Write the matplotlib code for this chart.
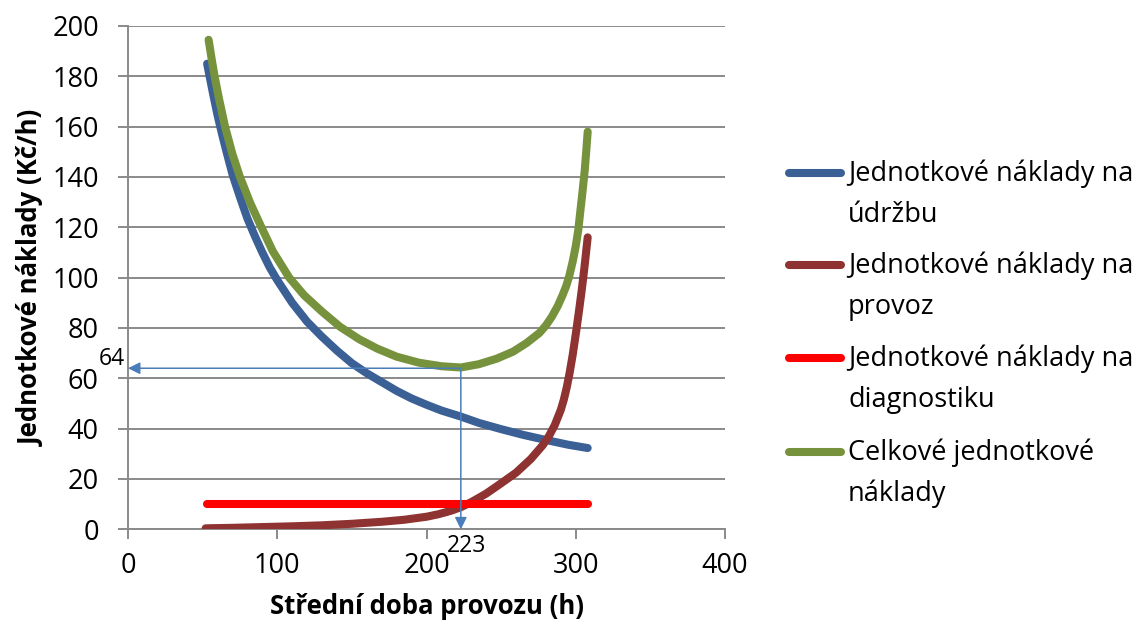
import matplotlib.pyplot as plt
from matplotlib.lines import Line2D

plt.rcParams['font.family'] = ['Open Sans', 'DejaVu Sans']

# Jednotkové náklady na údržbu
x_udrzba = [53, 55, 57, 60, 63, 66, 70, 75, 80, 85, 90, 95, 100, 110, 120, 130, 140, 150,
            160, 170, 180, 190, 200, 210, 223, 235, 250, 265, 280, 295, 308]
y_udrzba = [185, 179, 173, 164.5, 157, 150, 141, 132, 123.5, 116.5, 110, 104, 99, 90, 82.5,
            76.5, 71, 66, 62, 58.5, 55, 52, 49.5, 47.2, 44.8, 42.3, 39.8, 37.5, 35.5, 33.6, 32.3]

# Jednotkové náklady na provoz
x_provoz = [52, 70, 90, 110, 130, 150, 170, 185, 200, 208, 216, 223, 230, 240, 250, 260, 270,
            278, 282, 286, 290, 292, 294, 296, 298, 300, 302, 304, 306, 308]
y_provoz = [0.4, 0.6, 0.9, 1.2, 1.6, 2.2, 3.0, 3.8, 5.0, 6.0, 7.3, 8.8, 10.8, 14.2, 18.3, 22.5,
            28.0, 33.5, 37.0, 41.5, 47.5, 51.5, 56.5, 62.5, 69.5, 77.5, 86.0, 95.0, 105.0, 116.0]

# Jednotkové náklady na diagnostiku
x_diag = [53, 308]
y_diag = [10, 10]

# Celkové jednotkové náklady
x_celk = [54, 56, 58, 61, 65, 70, 75, 82, 89, 97, 108, 118, 130, 142, 155, 167, 180, 195, 210,
          223, 235, 247, 258, 267, 275.6, 280, 284, 288, 291, 293.5, 295.6, 298, 300, 301.7,
          303, 304.5, 306, 307, 308]
y_celk = [194.5, 187, 180, 171, 160, 149, 140, 129.5, 120.5, 110.5, 100, 93, 86.5, 80.5, 75.5,
          71.8, 68.6, 66.2, 64.8, 64.3, 65.6, 67.8, 70.6, 74, 78, 81, 84.5, 88.8, 92.8, 96.5,
          100.5, 106.5, 112.5, 119, 126, 134, 142.5, 150, 158]

opt_x = 223
opt_y = 64

labels = [("Jednotkové náklady na", "údržbu"),
          ("Jednotkové náklady na", "provoz"),
          ("Jednotkové náklady na", "diagnostiku"),
          ("Celkové jednotkové", "náklady")]
colors = ['#3b6096', '#8e3331', '#ff0000', '#76923c']

fig = plt.figure(figsize=(11.41, 6.30), dpi=100)
ax = fig.add_axes([0.1122, 0.1598, 0.5232, 0.799])

lw = 5.8
series = [(x_udrzba, y_udrzba), (x_provoz, y_provoz), (x_diag, y_diag), (x_celk, y_celk)]
for (xs, ys), c in zip(series, colors):
    ax.plot(xs, ys, color=c, lw=lw, solid_capstyle='round', solid_joinstyle='round', zorder=3)

# odečet optima
arrow_c = '#4a7ebb'
for tip in [(0, opt_y), (opt_x, 0)]:
    ax.annotate('', xy=tip, xytext=(opt_x, opt_y),
                arrowprops=dict(arrowstyle='-|>', color=arrow_c, lw=1.1, mutation_scale=18,
                                shrinkA=0, shrinkB=0), zorder=4)
ax.text(-10.7, 67.5, str(opt_y), fontsize=16.5, ha='center', va='center', clip_on=False)
ax.text(226.8, -6.8, str(opt_x), fontsize=16.5, ha='center', va='center', clip_on=False)

ax.set_xlim(0, 400)
ax.set_ylim(0, 200)
ax.set_xticks([0, 100, 200, 300, 400])
ax.set_yticks(range(0, 201, 20))
ax.grid(axis='y', color='#8a8a8a', lw=1.4)
ax.set_axisbelow(True)
for s in ['top', 'right']:
    ax.spines[s].set_visible(False)
for s in ['left', 'bottom']:
    ax.spines[s].set_color('#8a8a8a')
    ax.spines[s].set_linewidth(1.4)
ax.tick_params(axis='both', colors='#8a8a8a', labelcolor='black', labelsize=19.5,
               length=7, width=1.4)
ax.tick_params(axis='y', pad=14)
ax.tick_params(axis='x', pad=9)

ax.set_xlabel("Střední doba provozu (h)", fontsize=18.5, fontweight='bold', labelpad=10)
ax.set_ylabel("Jednotkové náklady (Kč/h)", fontsize=18.5, fontweight='bold', labelpad=5)

# legenda vpravo
W, H = 1141, 630
handle_y = [173, 265, 358, 452]
for yy, c, (l1, l2) in zip(handle_y, colors, labels):
    fig.add_artist(Line2D([789 / W, 841 / W], [1 - yy / H, 1 - yy / H], color=c, lw=lw,
                          solid_capstyle='round'))
    fig.text(848 / W, 1 - (yy + 8) / H, l1, fontsize=19.5, va='baseline', ha='left')
    fig.text(848 / W, 1 - (yy + 49) / H, l2, fontsize=19.5, va='baseline', ha='left')

fig.savefig('out.png', dpi=100)
